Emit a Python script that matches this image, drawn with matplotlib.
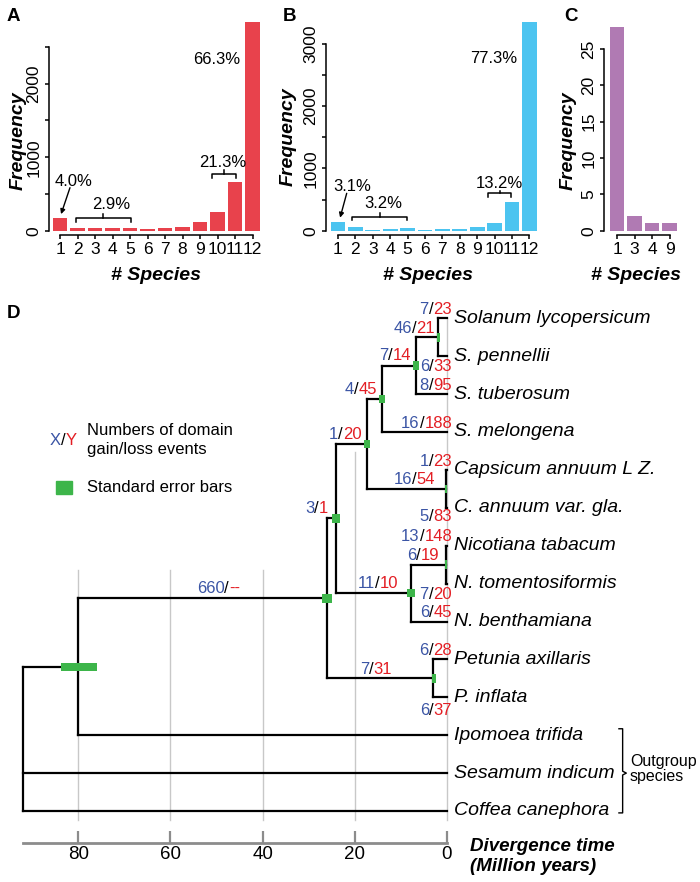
import matplotlib
matplotlib.use("Agg")
import matplotlib.pyplot as plt
from matplotlib.patches import Rectangle

plt.rcParams['font.family'] = ['Liberation Sans', 'DejaVu Sans']

W, H = 700, 882
BLUE = '#3b55a5'
RED = '#e31e24'
GREEN = '#3db54a'

# ---- histogram data (panels A, B, C)
species_ab = [str(i) for i in range(1, 13)]
freq_a = [172, 30, 30, 30, 34, 22, 42, 56, 116, 250, 663, 2843]
freq_b = [134, 55, 18, 30, 36, 16, 28, 33, 62, 117, 455, 3350]
species_c = ['1', '3', '4', '9']
freq_c = [28, 2, 1, 1]

# ---- tree data (panel D)
tips = ['Solanum lycopersicum', 'S. pennellii', 'S. tuberosum', 'S. melongena',
        'Capsicum annuum L Z.', 'C. annuum var. gla.', 'Nicotiana tabacum',
        'N. tomentosiformis', 'N. benthamiana', 'Petunia axillaris', 'P. inflata',
        'Ipomoea trifida', 'Sesamum indicum', 'Coffea canephora']
node_names = ['n1', 'n2', 'n3', 'n4', 'n5', 'n6', 'n7', 'n8', 'n9', 'n10', 'n11', 'root']
node_children = [
    ['Solanum lycopersicum', 'S. pennellii'],
    ['n1', 'S. tuberosum'],
    ['n2', 'S. melongena'],
    ['Capsicum annuum L Z.', 'C. annuum var. gla.'],
    ['n3', 'n4'],
    ['Nicotiana tabacum', 'N. tomentosiformis'],
    ['n6', 'N. benthamiana'],
    ['n5', 'n7'],
    ['Petunia axillaris', 'P. inflata'],
    ['n8', 'n9'],
    ['n10', 'Ipomoea trifida'],
    ['n11', 'Sesamum indicum', 'Coffea canephora'],
]
node_ages = [1.9, 6.7, 14.2, 0.3, 17.4, 0.3, 7.8, 24.1, 3.0, 26.1, 80.0, 91.9]
err_low = [1.5, 6.1, 13.4, 0.05, 16.7, 0.05, 6.9, 23.2, 2.45, 25.0, 76.0, None]
err_high = [2.2, 7.3, 14.75, 0.45, 18.0, 0.45, 8.6, 24.9, 3.3, 27.2, 83.7, None]

branches = ['Solanum lycopersicum', 'S. pennellii', 'n1', 'S. tuberosum', 'n2',
            'S. melongena', 'n3', 'Capsicum annuum L Z.', 'C. annuum var. gla.', 'n4',
            'n5', 'Nicotiana tabacum', 'N. tomentosiformis', 'n6', 'N. benthamiana',
            'n7', 'n8', 'Petunia axillaris', 'P. inflata', 'n9', 'n10']
gains = ['7', '6', '46', '8', '7', '16', '4', '1', '5', '16', '1', '13', '7', '6', '6',
         '11', '3', '6', '6', '7', '660']
losses = ['23', '33', '21', '95', '14', '188', '45', '23', '83', '54', '20', '148', '20',
          '19', '45', '10', '1', '28', '37', '31', '--']

# label placement: right edge (My), vertical offset (px, + = down)
label_place = [(-1.1, -8.5), (-1.1, 10.5), (2.6, -9), (-1.1, -8.5), (7.7, -10),
               (-1.1, -8.5), (15.2, -9), (-1.1, -8.5), (-1.1, 9), (2.6, -9),
               (18.5, -9.5), (-1.1, -9), (-1.1, 10.5), (1.7, -9), (-1.1, -9),
               (10.6, -9.5), (25.8, -10), (-1.1, -9), (-1.1, 13.5), (11.9, -8.5),
               (44.9, -10)]

fig = plt.figure(figsize=(W / 100, H / 100), dpi=100)
renderer = fig.canvas.get_renderer()


def fx(x):
    return x / W


def fy(y):
    return 1 - y / H


def bar_panel(values, labels, left, first, step, zero, right, unit, color, yticks, ylabels):
    top = 15
    ax = fig.add_axes([fx(left), fy(zero), (right - left) / W, (zero - top) / H])
    pos = list(range(1, len(values) + 1))
    ax.bar(pos, values, width=0.84, color=color, linewidth=0)
    ax.set_xlim(1 + (left - first) / step, 1 + (right - first) / step)
    ax.set_ylim(0, (zero - top) / unit)
    for s in ['top', 'right']:
        ax.spines[s].set_visible(False)
    ax.spines['left'].set_bounds(yticks[0], yticks[-1])
    ax.spines['bottom'].set_position(('outward', 3.1))
    ax.spines['bottom'].set_bounds(1, len(values))
    ax.spines['left'].set_linewidth(1.1)
    ax.spines['bottom'].set_linewidth(1.1)
    ax.set_xticks(pos)
    ax.set_xticklabels(labels)
    ax.set_yticks(yticks)
    ax.set_yticklabels(ylabels, rotation=90, va='center')
    ax.tick_params(axis='x', length=2.9, width=1.1, labelsize=12.5, pad=2.2)
    ax.tick_params(axis='y', length=2.9, width=1.1, labelsize=12.5, pad=2.5)
    ax.set_facecolor('none')
    return ax


def bracket(ax, x0, x1, xc, y, drop, rise):
    ax.plot([x0, x0, x1, x1], [y - drop, y, y, y - drop], color='k', lw=1.1)
    ax.plot([xc, xc], [y, y + rise], color='k', lw=1.1)


RED_BAR = '#e8424c'
BLUE_BAR = '#4cc4f0'
PURPLE_BAR = '#b07ab3'

axA = bar_panel(freq_a, species_ab, 49, 60, 17.5, 230.7, 262, 0.0735, RED_BAR,
                [0, 500, 1000, 1500, 2000, 2500], ['0', '', '1000', '', '2000', ''])
axA.text(1.8, 667, '4.0%', ha='center', va='center', fontsize=12)
axA.annotate('', xy=(1.06, 225), xytext=(1.57, 585),
             arrowprops=dict(arrowstyle='-|>', lw=1, color='k', mutation_scale=7,
                             shrinkA=0, shrinkB=0))
axA.text(3.91, 350, '2.9%', ha='center', va='center', fontsize=12)
bracket(axA, 1.91, 5.06, 3.47, 169, 47, 54)
axA.text(10.31, 925, '21.3%', ha='center', va='center', fontsize=12)
bracket(axA, 9.7, 11.04, 10.37, 771, 50, 55)
axA.text(9.93, 2332, '66.3%', ha='center', va='center', fontsize=12)

axB = bar_panel(freq_b, species_ab, 326, 338, 17.4, 230.7, 540, 0.0623, BLUE_BAR,
                [0, 500, 1000, 1500, 2000, 2500, 3000],
                ['0', '', '1000', '', '2000', '', '3000'])
axB.text(1.8, 706, '3.1%', ha='center', va='center', fontsize=12)
axB.annotate('', xy=(1.12, 209), xytext=(1.5, 600),
             arrowprops=dict(arrowstyle='-|>', lw=1, color='k', mutation_scale=7,
                             shrinkA=0, shrinkB=0))
axB.text(3.59, 440, '3.2%', ha='center', va='center', fontsize=12)
bracket(axB, 1.79, 4.98, 3.41, 225, 53, 54)
axB.text(10.25, 761, '13.2%', ha='center', va='center', fontsize=12)
bracket(axB, 9.64, 10.94, 10.31, 600, 54, 42)
axB.text(9.97, 2767, '77.3%', ha='center', va='center', fontsize=12)

axC = bar_panel(freq_c, species_c, 604, 617, 17.5, 230.7, 685, 7.27, PURPLE_BAR,
                [0, 5, 10, 15, 20, 25], ['0', '5', '10', '15', '20', '25'])

for x, y in [(18, 141), (288, 137), (568, 141)]:
    fig.text(fx(x), fy(y), 'Frequency', rotation=90, ha='center', va='center',
             fontsize=14, fontweight='bold', style='italic')
for x in [156, 427.5, 636]:
    fig.text(fx(x), fy(275.6), '# Species', ha='center', va='center',
             fontsize=14, fontweight='bold', style='italic')
for lab, x, y in [('A', 13.5, 16.7), ('B', 290, 16.5), ('C', 571, 16.5), ('D', 13.5, 313.5)]:
    fig.text(fx(x), fy(y), lab, ha='center', va='center', fontsize=13.5, fontweight='bold')

# ---- panel D: tree
PX_MY = 4.61      # px per million years
X0 = 447          # px of time 0
Y0, DY = 318.3, 37.9
AX_TOP, AX_BOT = 290, 842.7

axD = fig.add_axes([0, fy(AX_BOT), 1, (AX_BOT - AX_TOP) / H])
axD.set_xlim(X0 / PX_MY, (X0 - W) / PX_MY)
axD.set_ylim((AX_BOT - Y0) / DY, (AX_TOP - Y0) / DY)
axD.set_facecolor('none')
for s in ['top', 'right', 'left']:
    axD.spines[s].set_visible(False)
axD.spines['bottom'].set_bounds(0, node_ages[-1])
axD.spines['bottom'].set_color('#8c8c8c')
axD.spines['bottom'].set_linewidth(2)
axD.set_yticks([])
axD.set_xticks([80, 60, 40, 20, 0])
axD.tick_params(axis='x', direction='in', length=8.6, width=1.6, color='#8c8c8c',
                labelsize=13.5, pad=2.7)


def py(px):
    return (px - Y0) / DY


# background grid lines
grid_top = {80: 570, 60: 570, 40: 570, 20: 452, 0: Y0}
for t, top in grid_top.items():
    axD.plot([t, t], [py(top), py(820)], color='#c8c8c8', lw=1, zorder=0)

ypos = {t: i for i, t in enumerate(tips)}
xpos = {t: 0.0 for t in tips}
for name, kids, age in zip(node_names, node_children, node_ages):
    ypos[name] = (ypos[kids[0]] + ypos[kids[-1]]) / 2
    xpos[name] = age

for name, kids in zip(node_names, node_children):
    ys = [ypos[k] for k in kids]
    axD.plot([xpos[name]] * 2, [min(ys), max(ys)], color='k', lw=1.6,
             solid_capstyle='projecting', zorder=2)
    for k in kids:
        axD.plot([xpos[name], xpos[k]], [ypos[k]] * 2, color='k', lw=1.6,
                 solid_capstyle='projecting', zorder=2)

eh = 8.5 / DY
for name, lo, hi in zip(node_names, err_low, err_high):
    if lo is None:
        continue
    axD.add_patch(Rectangle((lo, ypos[name] - eh / 2), hi - lo, eh, color=GREEN,
                            linewidth=0, zorder=3))

for t in tips:
    axD.annotate(t, (0, ypos[t]), xytext=(4.8, 0), textcoords='offset points',
                 ha='left', va='center', fontsize=14, style='italic')


def multicolor(ax, x, y, parts, dy_pt, size):
    # parts drawn right to left, right aligned at x
    off = 0.0
    for txt, col in reversed(parts):
        t = ax.annotate(txt, (x, y), xytext=(-off, dy_pt), textcoords='offset points',
                        ha='right', va='center', fontsize=size, color=col)
        off += t.get_window_extent(renderer).width * 72 / fig.dpi


for b, g, l, (xr, dy) in zip(branches, gains, losses, label_place):
    multicolor(axD, xr, ypos[b], [(g, BLUE), ('/', 'k'), (l, RED)], -dy * 0.72, 12)

# outgroup bracket
bx = -38.1
y_top = ypos['Ipomoea trifida'] - 0.17
y_bot = ypos['Coffea canephora'] + 0.05
y_mid = ypos['Sesamum indicum']
axD.plot([bx + 0.8, bx, bx, bx - 0.8, bx, bx, bx + 0.8],
         [y_top, y_top, y_mid - 0.05, y_mid, y_mid + 0.05, y_bot, y_bot],
         color='k', lw=1)
axD.text(bx - 1.6, y_mid - 0.11, 'Outgroup\nspecies', ha='left', va='center',
         fontsize=11.5, linespacing=1.05)

fig.text(fx(470), fy(856.5), 'Divergence time\n(Million years)', ha='left', va='center',
         fontsize=13.5, fontweight='bold', style='italic', linespacing=1.25)

# legend
lx = fx(50)
tX = fig.text(lx, fy(440), 'X', color=BLUE, fontsize=12, ha='left', va='center')
wX = tX.get_window_extent(renderer).width / W
tS = fig.text(lx + wX, fy(440), '/', color='k', fontsize=12, ha='left', va='center')
wS = tS.get_window_extent(renderer).width / W
fig.text(lx + wX + wS, fy(440), 'Y', color=RED, fontsize=12, ha='left', va='center')
fig.text(fx(86.7), fy(439.7), 'Numbers of domain\ngain/loss events', ha='left',
         va='center', fontsize=12, linespacing=1.32)
fig.patches.append(Rectangle((fx(56), fy(494.3)), 16 / W, 13.6 / H, color=GREEN,
                             transform=fig.transFigure, figure=fig))
fig.text(fx(86.7), fy(487.3), 'Standard error bars', ha='left', va='center', fontsize=12)

fig.savefig('out.png', dpi=100)
